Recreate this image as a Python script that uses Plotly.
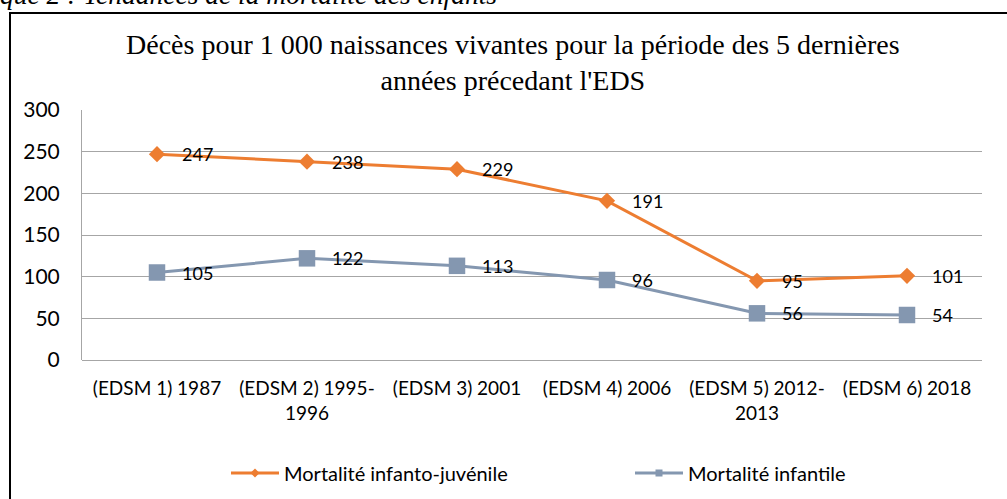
import plotly.graph_objects as go

categories = ["(EDSM 1) 1987", "(EDSM 2) 1995-<br>1996", "(EDSM 3) 2001",
              "(EDSM 4) 2006", "(EDSM 5) 2012-<br>2013", "(EDSM 6) 2018"]
infanto_juvenile = [247, 238, 229, 191, 95, 101]
infantile = [105, 122, 113, 96, 56, 54]
series_names = ["Mortalité infanto-juvénile", "Mortalité infantile"]

W, H = 1007, 499
L, R, T, B = 82, 25, 110, 139
pw, ph = W - L - R, H - T - B

def px(x):
    return (x - L) / pw

def py(y):
    return (H - B - y) / ph

font_sans = "Lato, Calibri, Carlito, sans-serif"
font_serif = "Liberation Serif, Times New Roman, serif"
ORANGE = "#ED7D31"
BLUE = "#8497B0"

fig = go.Figure()
fig.add_trace(go.Scatter(
    x=categories, y=infanto_juvenile, name=series_names[0], showlegend=False,
    mode="lines+markers",
    line=dict(color=ORANGE, width=3),
    marker=dict(symbol="diamond", size=12.5, color=ORANGE),
))
fig.add_trace(go.Scatter(
    x=categories, y=infantile, name=series_names[1], showlegend=False,
    mode="lines+markers",
    line=dict(color=BLUE, width=3),
    marker=dict(symbol="square", size=16.5, color=BLUE),
))
# legend entries (small markers as in the reference legend)
fig.add_trace(go.Scatter(
    x=[None], y=[None], name=series_names[0], mode="lines+markers", legend="legend",
    line=dict(color=ORANGE, width=3), marker=dict(symbol="diamond", size=7, color=ORANGE),
))
fig.add_trace(go.Scatter(
    x=[None], y=[None], name=series_names[1], mode="lines+markers", legend="legend2",
    line=dict(color=BLUE, width=3), marker=dict(symbol="square", size=7, color=BLUE),
))

# data labels to the right of each point
label_annotations = []
for series in (infanto_juvenile, infantile):
    for cat, val in zip(categories, series):
        label_annotations.append(dict(
            x=cat, y=val, xref="x", yref="y", text=str(val), showarrow=False,
            xanchor="left", yanchor="middle", xshift=23,
            font=dict(family=font_sans, size=18, color="black")))

legend_common = dict(orientation="h", yanchor="middle", xanchor="left",
                     font=dict(family=font_sans, size=20, color="black"),
                     bgcolor="rgba(0,0,0,0)", itemwidth=48)

fig.update_layout(
    width=W, height=H,
    margin=dict(l=L, r=R, t=T, b=B, autoexpand=False),
    paper_bgcolor="white", plot_bgcolor="white",
    showlegend=True,
    legend=dict(x=px(226), y=py(473), **legend_common),
    legend2=dict(x=px(630), y=py(473), **legend_common),
    xaxis=dict(type="category", showgrid=False, showline=False, ticks="",
               tickfont=dict(family=font_sans, size=19, color="black"),
               range=[-0.5, 5.5], fixedrange=True, ticklabelstandoff=15),
    yaxis=dict(range=[0, 300], dtick=50, showgrid=True, gridcolor="#A6A6A6", gridwidth=1,
               zeroline=True, zerolinecolor="#A6A6A6", zerolinewidth=1,
               showline=True, linecolor="#A6A6A6", linewidth=1, ticks="",
               tickfont=dict(family=font_sans, size=21, color="black"),
               ticklabelstandoff=17),
    annotations=label_annotations + [
        dict(text="Décès pour 1 000 naissances vivantes pour la période des 5 dernières<br>années précedant l'EDS",
             xref="paper", yref="paper", x=px(513), y=py(62), xanchor="center", yanchor="middle",
             showarrow=False, font=dict(family=font_serif, size=28, color="black"), align="center"),
        dict(text="<i>que 2 : Tendances de la mortalité des enfants</i>",
             xref="paper", yref="paper", x=px(-2), y=py(12), xanchor="left", yanchor="bottom",
             showarrow=False, font=dict(family=font_serif, size=27.5, color="black")),
    ],
    shapes=[
        dict(type="rect", xref="paper", yref="paper", x0=px(10), x1=px(1030), y0=py(520), y1=py(13),
             line=dict(color="black", width=2), layer="above"),
    ],
)

fig.write_html("out.html", config={"displayModeBar": False},
               post_script="document.body.style.margin='0';document.body.style.overflow='hidden';")
